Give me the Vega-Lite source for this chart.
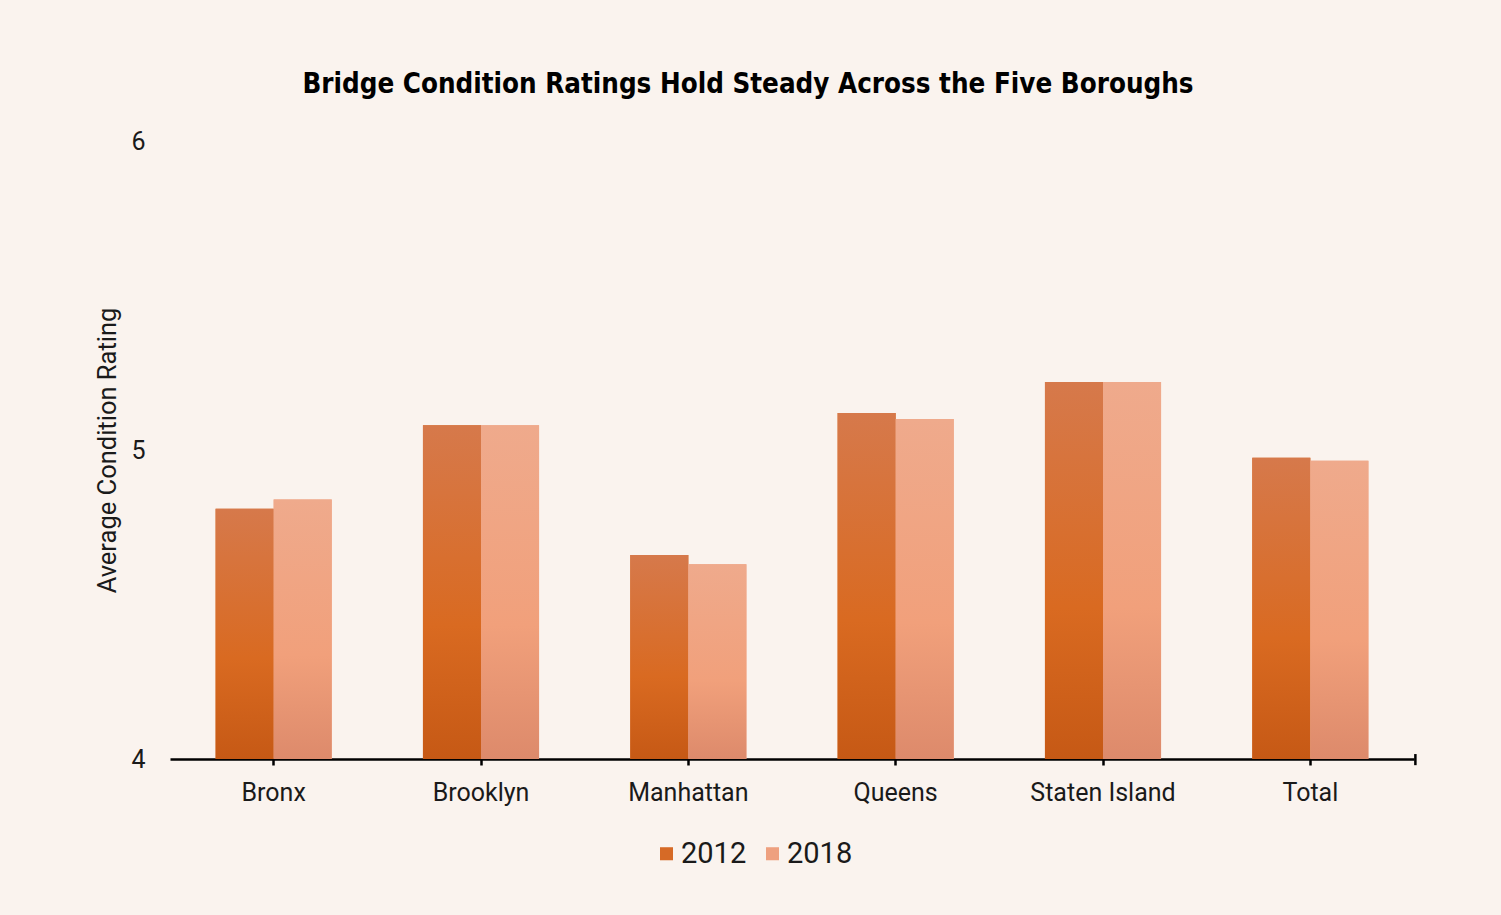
{
  "$schema": "https://vega.github.io/schema/vega-lite/v6.json",
  "width": 1244,
  "height": 618,
  "autosize": "none",
  "padding": {"left": 170, "top": 141, "right": 87, "bottom": 156},
  "background": "#faf3ee",
  "title": {
    "text": "Bridge Condition Ratings Hold Steady Across the Five Boroughs",
    "font": "'DejaVu Sans Condensed', Roboto",
    "fontSize": 27.5,
    "fontWeight": "bold",
    "color": "#000000",
    "anchor": "middle",
    "dx": -44,
    "offset": 31
  },
  "data": {
    "values": [
      {"borough": "Bronx", "year": "2012", "rating": 4.81},
      {"borough": "Bronx", "year": "2018", "rating": 4.84},
      {"borough": "Brooklyn", "year": "2012", "rating": 5.08},
      {"borough": "Brooklyn", "year": "2018", "rating": 5.08},
      {"borough": "Manhattan", "year": "2012", "rating": 4.66},
      {"borough": "Manhattan", "year": "2018", "rating": 4.63},
      {"borough": "Queens", "year": "2012", "rating": 5.12},
      {"borough": "Queens", "year": "2018", "rating": 5.10},
      {"borough": "Staten Island", "year": "2012", "rating": 5.22},
      {"borough": "Staten Island", "year": "2018", "rating": 5.22},
      {"borough": "Total", "year": "2012", "rating": 4.975},
      {"borough": "Total", "year": "2018", "rating": 4.965}
    ]
  },
  "encoding": {
    "x": {
      "field": "borough",
      "type": "nominal",
      "sort": null,
      "scale": {"paddingInner": 0.44, "paddingOuter": 0.22},
      "axis": {
        "title": null,
        "labelAngle": 0,
        "labelFont": "Roboto",
        "labelFontSize": 25,
        "labelColor": "#1a1a1a",
        "labelPadding": 15,
        "domainColor": "#000000",
        "domainWidth": 2.5,
        "tickColor": "#000000",
        "tickWidth": 2.5,
        "tickSize": 6
      }
    },
    "y": {
      "field": "rating",
      "type": "quantitative",
      "scale": {"domain": [4, 6], "zero": false, "nice": false},
      "axis": {
        "values": [4, 5, 6],
        "format": ".0f",
        "labelOverlap": false,
        "domain": false,
        "ticks": false,
        "grid": false,
        "labelFont": "Roboto",
        "labelFontSize": 25,
        "labelColor": "#1a1a1a",
        "labelPadding": 25,
        "title": "Average Condition Rating",
        "titleFont": "Roboto",
        "titleFontSize": 25.5,
        "titleFontWeight": "normal",
        "titleColor": "#1a1a1a",
        "titlePadding": 10
      }
    },
    "y2": {"datum": 4}
  },
  "layer": [
    {
      "mark": {"type": "bar"},
      "encoding": {
        "xOffset": {
          "field": "year",
          "type": "nominal",
          "scale": {"domain": ["2012", "2018"], "paddingInner": 0}
        },
        "color": {
          "field": "year",
          "type": "nominal",
          "scale": {"domain": ["2012", "2018"], "range": ["#d66a26", "#eea07f"]},
          "legend": {
            "title": null,
            "orient": "none",
            "legendX": 482,
            "legendY": 698,
            "direction": "horizontal",
            "symbolType": "square",
            "symbolSize": 170,
            "symbolStrokeWidth": 0,
            "labelFont": "Roboto",
            "labelFontSize": 29,
            "labelColor": "#1a1a1a",
            "labelOffset": 0,
            "columnPadding": 11
          }
        }
      }
    },
    {
      "transform": [{"filter": "datum.year === '2012'"}],
      "mark": {
        "type": "bar",
        "color": {
          "gradient": "linear", "x1": 0, "y1": 0, "x2": 0, "y2": 1,
          "stops": [
            {"offset": 0, "color": "#d6794b"},
            {"offset": 0.6, "color": "#d96a21"},
            {"offset": 1, "color": "#c65915"}
          ]
        }
      },
      "encoding": {
        "xOffset": {"field": "year", "type": "nominal"}
      }
    },
    {
      "transform": [{"filter": "datum.year === '2018'"}],
      "mark": {
        "type": "bar",
        "color": {
          "gradient": "linear", "x1": 0, "y1": 0, "x2": 0, "y2": 1,
          "stops": [
            {"offset": 0, "color": "#efaa8c"},
            {"offset": 0.6, "color": "#f1a07b"},
            {"offset": 1, "color": "#dd8a6b"}
          ]
        }
      },
      "encoding": {
        "xOffset": {"field": "year", "type": "nominal"}
      }
    },
    {
      "data": {"values": [{"borough": "Total", "rating": 4}]},
      "mark": {"type": "rule", "color": "#000000", "strokeWidth": 2.5, "xOffset": 47},
      "encoding": {
        "x": {"field": "borough", "type": "nominal", "bandPosition": 1},
        "y": {"datum": 4.016},
        "y2": {"datum": 3.98}
      }
    }
  ],
  "config": {
    "view": {"stroke": null}
  }
}
